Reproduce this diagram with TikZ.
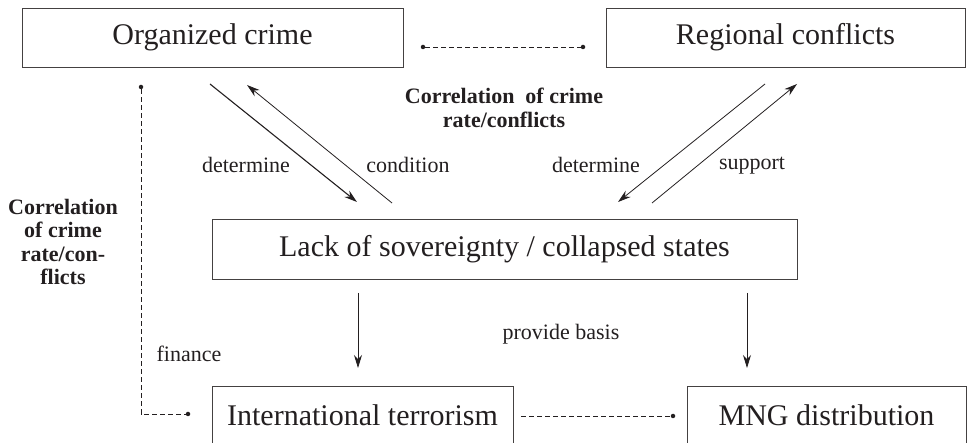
\documentclass[tikz,border=0pt]{standalone}
\usepackage{fontspec}
\setmainfont{Liberation Serif}
\usetikzlibrary{arrows.meta,calc}
\definecolor{ink}{HTML}{231F20}
\begin{document}
\begin{tikzpicture}[x=1pt,y=-1pt,
  box/.style={draw=ink!85,line width=0.9pt,inner sep=0pt,text=ink,
    font=\fontsize{30}{34}\selectfont},
  lbl/.style={text=ink,inner sep=0pt,font=\fontsize{22}{24}\selectfont},
  blbl/.style={text=ink,inner sep=0pt,align=center,font=\fontsize{22}{23.5}\selectfont\bfseries},
  arr/.style={draw=ink,line width=0.8pt,-{Stealth[length=13pt,width=8pt]}},
  dsh/.style={draw=ink,line width=0.8pt,dash pattern=on 5pt off 3pt},
  dot/.style={circle,fill=ink,inner sep=0pt,minimum size=4.5pt}]
\useasboundingbox (0,0) rectangle (967,443);
% boxes
\node[box,minimum width=381pt,minimum height=59pt] (oc) at (212.5,37.5) {Organized crime};
\node[box,minimum width=359pt,minimum height=59pt] (rc) at (785.5,37.5) {Regional conflicts};
\node[box,minimum width=585pt,minimum height=60pt] (lack) at (504.5,249) {Lack of sovereignty / collapsed states};
\node[box,minimum width=301pt,minimum height=59pt] (it) at (362.5,415.5) {International terrorism};
\node[box,minimum width=279pt,minimum height=59pt] (mng) at (826.5,415.5) {MNG distribution};
% dots
\node[dot] (d1) at (423,47) {};
\node[dot] (d2) at (583,47) {};
\node[dot] (d3) at (141,87) {};
\node[dot] (d4) at (188,414) {};
\coordinate (d5) at (521,416);
\node[dot] (d6) at (673,416) {};
\coordinate (corner) at (141,414);
% dashed connectors
\draw[dsh] (d1) -- (d2);
\draw[dsh] (d3) -- (corner) -- (d4);
\draw[dsh] (d5) -- (d6);
% arrow end points
\coordinate (a1s) at (210,84);  \coordinate (a1e) at (357,202);
\coordinate (a2s) at (392,203); \coordinate (a2e) at (247,85);
\coordinate (a3s) at (765,84);  \coordinate (a3e) at (618,202);
\coordinate (a4s) at (652,203); \coordinate (a4e) at (797,84);
\coordinate (a5s) at (358,293); \coordinate (a5e) at (358,368);
\coordinate (a6s) at (747,293); \coordinate (a6e) at (747,368);
\draw[arr,line width=1.1pt] (a1s) -- (a1e);
\draw[arr] (a2s) -- (a2e);
\draw[arr] (a3s) -- (a3e);
\draw[arr] (a4s) -- (a4e);
\draw[arr] (a5s) -- (a5e);
\draw[arr] (a6s) -- (a6e);
% labels
\node[lbl] (l1) at (246,165) {determine};
\node[lbl] (l2) at (408,165) {condition};
\node[lbl] (l3) at (596,165) {determine};
\node[lbl] (l4) at (752,166) {support};
\node[lbl] (l5) at (189,354) {finance};
\node[lbl] (l6) at (561,334) {provide basis};
\node[blbl] (b1) at (504,108) {Correlation\ \ of crime\\rate/conflicts};
\node[blbl] (b2) at (63,242) {Correlation\\of crime\\rate/con-\\flicts};
\end{tikzpicture}
\end{document}
